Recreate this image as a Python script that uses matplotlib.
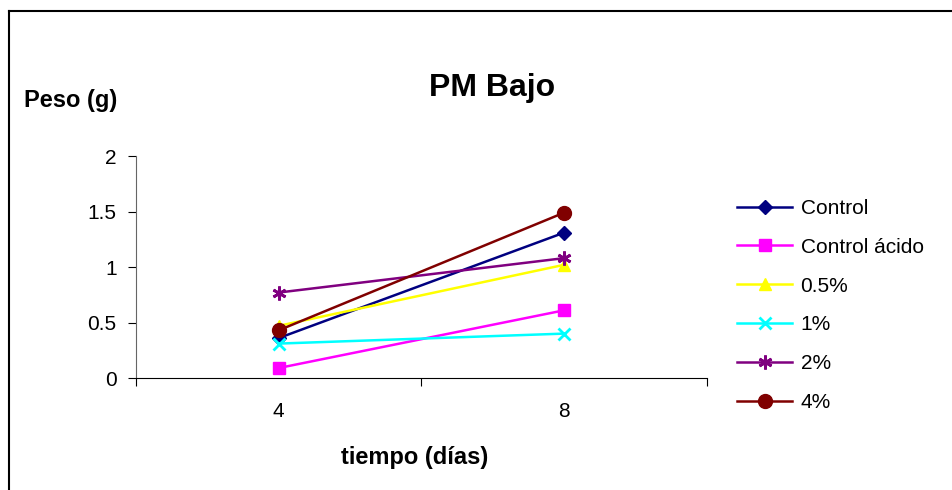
import numpy as np
import matplotlib.pyplot as plt
from matplotlib.lines import Line2D

plt.rcParams['font.family'] = ['Liberation Sans', 'DejaVu Sans']

# Datos: peso (g) en cada tiempo
dias = ['4', '8']
control = [0.36, 1.31]
control_acido = [0.09, 0.61]
p05 = [0.47, 1.02]
p1 = [0.31, 0.40]
p2 = [0.77, 1.08]
p4 = [0.43, 1.49]

series = [
    ('Control', control, '#000080', 'D', 7),
    ('Control ácido', control_acido, '#FF00FF', 's', 9),
    ('0.5%', p05, '#FFFF00', '^', 9),
    ('1%', p1, '#00FFFF', 'x', 9),
    ('2%', p2, '#800080', (6, 2, 0), 10),
    ('4%', p4, '#800000', 'o', 10),
]

fig = plt.figure(figsize=(9.53, 4.9), dpi=100)
ax = fig.add_axes([136 / 953, 1 - 378 / 490, (707 - 136) / 953, (378 - 156) / 490])

x = np.arange(len(dias))
for nombre, valores, color, marca, tam in series:
    ax.plot(x, valores, color=color, marker=marca, markersize=tam,
            markeredgewidth=2 if marca in ('x', (6, 2, 0)) else 1,
            linewidth=1.8, label=nombre)

ax.set_xlim(-0.5, 1.5)
ax.set_ylim(0, 2)
ax.set_yticks([0, 0.5, 1, 1.5, 2])
ax.set_yticklabels(['0', '0.5', '1', '1.5', '2'])
ax.set_xticks([-0.5, 0.5, 1.5])
ax.set_xticklabels([])
ax.set_xticks(x, minor=True)
ax.set_xticklabels(dias, minor=True)
ax.tick_params(axis='x', which='minor', length=0, pad=17, labelsize=15)
ax.tick_params(axis='x', which='major', length=6, direction='out')
ax.tick_params(axis='y', length=6, direction='out', pad=8, labelsize=15)
ax.spines['top'].set_visible(False)
ax.spines['right'].set_visible(False)
ax.spines['left'].set_color('#666666')

fig.text(492 / 953, 1 - 88 / 490, 'PM Bajo', fontsize=23, fontweight='bold',
         ha='center', va='center')
fig.text(24 / 953, 1 - 100 / 490, 'Peso (g)', fontsize=17, fontweight='bold',
         ha='left', va='center')
fig.text(415 / 953, 1 - 457 / 490, 'tiempo (días)', fontsize=17, fontweight='bold',
         ha='center', va='center')

fig.legend(loc='upper left', bbox_to_anchor=(737 / 953, 1 - 199 / 490),
           frameon=False, fontsize=15, handlelength=2.65, handletextpad=0.4,
           labelspacing=0.95, borderaxespad=0, borderpad=0)

# marco del gráfico
fig.add_artist(Line2D([9 / 953, 952 / 953], [1 - 11.5 / 490] * 2,
                      transform=fig.transFigure, color='black', linewidth=1.5))
fig.add_artist(Line2D([9.5 / 953] * 2, [1 - 11.5 / 490, 0],
                      transform=fig.transFigure, color='black', linewidth=1.5))

fig.savefig('out.png', dpi=100)
